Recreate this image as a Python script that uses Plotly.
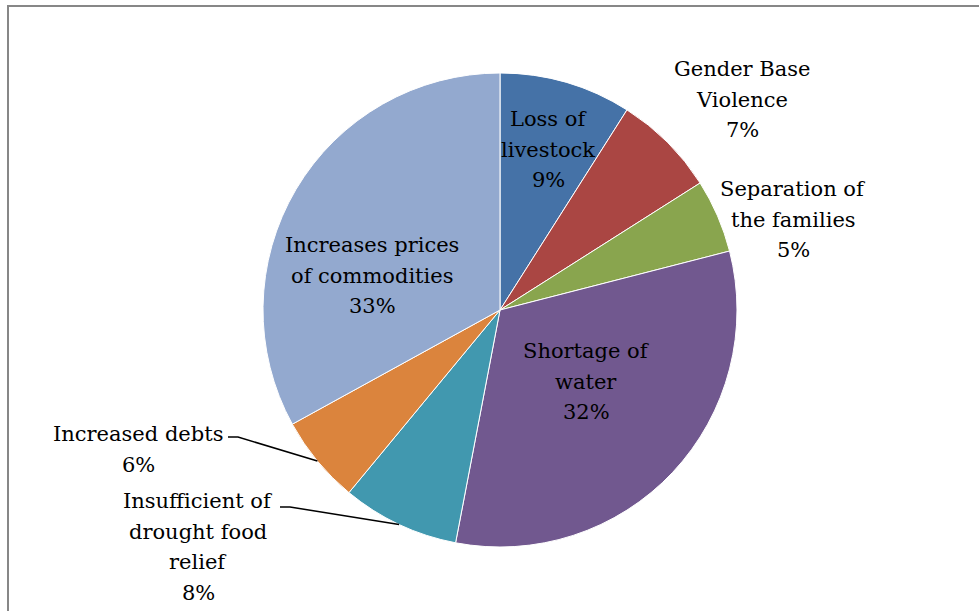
import math
import plotly.graph_objects as go

# Slice data, clockwise from 12 o'clock
categories = [
    "Loss of livestock",
    "Gender Base Violence",
    "Separation of the families",
    "Shortage of water",
    "Insufficient of drought food relief",
    "Increased debts",
    "Increases prices of commodities",
]
percentages = [9, 7, 5, 32, 8, 6, 33]

# Label lines shown for each slice (category text wrapped, then percentage)
label_lines = [
    ["Loss of", "livestock"],
    ["Gender Base", "Violence"],
    ["Separation of", "the families"],
    ["Shortage of", "water"],
    ["Insufficient of", "drought food", "relief"],
    ["Increased debts"],
    ["Increases prices", "of commodities"],
]

colors = ["#4572A7", "#AA4643", "#89A54E", "#71588F", "#4198AF", "#DB843D", "#93A9CF"]

W, H = 979, 611
CX, CY, R = 500, 310, 237          # pie centre and radius in pixels
FONT = "DejaVu Serif"
FSIZE = 21
LINE_GAP = 30.5

# Label block placement: (x centre, baseline of first line) in pixels
label_pos = [
    (548, 127),
    (742, 77),
    (793, 197),
    (586, 359),
    (198, 509),
    (138, 442),
    (372, 253),
]
# Leader lines: slice index -> start of line beside the label (pixels)
leaders = {5: (228, 437), 4: (280, 507)}


def px(x):
    return x / W


def py(y):
    return 1 - y / H


fig = go.Figure(
    go.Pie(
        labels=categories,
        values=percentages,
        sort=False,
        direction="clockwise",
        rotation=0,
        marker=dict(colors=colors, line=dict(color="white", width=1)),
        textinfo="none",
        hoverinfo="label+percent",
        showlegend=False,
        domain=dict(x=[px(CX - R), px(CX + R)], y=[py(CY + R), py(CY - R)]),
    )
)

annotations = []
for i, (lines, pct) in enumerate(zip(label_lines, percentages)):
    x0, b0 = label_pos[i]
    for k, txt in enumerate(lines + [f"{pct}%"]):
        base = b0 + k * LINE_GAP
        annotations.append(
            dict(
                x=px(x0), y=py(base - 0.38 * FSIZE),
                xref="paper", yref="paper",
                text=txt, showarrow=False,
                xanchor="center", yanchor="middle",
                font=dict(family=FONT, size=FSIZE, color="black"),
            )
        )

shapes = []
total = sum(percentages)
cum = 0
mid_angles = []
for v in percentages:
    mid_angles.append((cum + v / 2) / total * 2 * math.pi)
    cum += v

for idx, (sx, sy) in leaders.items():
    a = mid_angles[idx]
    ex = CX + R * math.sin(a)
    ey = CY - R * math.cos(a)
    path = f"M {px(sx)},{py(sy)} L {px(sx + 10)},{py(sy)} L {px(ex)},{py(ey)}"
    shapes.append(dict(type="path", path=path, xref="paper", yref="paper",
                       line=dict(color="black", width=1.5)))

# Chart-area border
shapes.append(dict(type="rect", xref="paper", yref="paper",
                   x0=px(8), x1=1.02, y0=-0.02, y1=py(6),
                   line=dict(color="#878787", width=2)))

fig.update_layout(
    width=W, height=H,
    margin=dict(l=0, r=0, t=0, b=0),
    paper_bgcolor="white", plot_bgcolor="white",
    font=dict(family=FONT),
    annotations=annotations,
    shapes=shapes,
)

fig.write_html("out.html")
